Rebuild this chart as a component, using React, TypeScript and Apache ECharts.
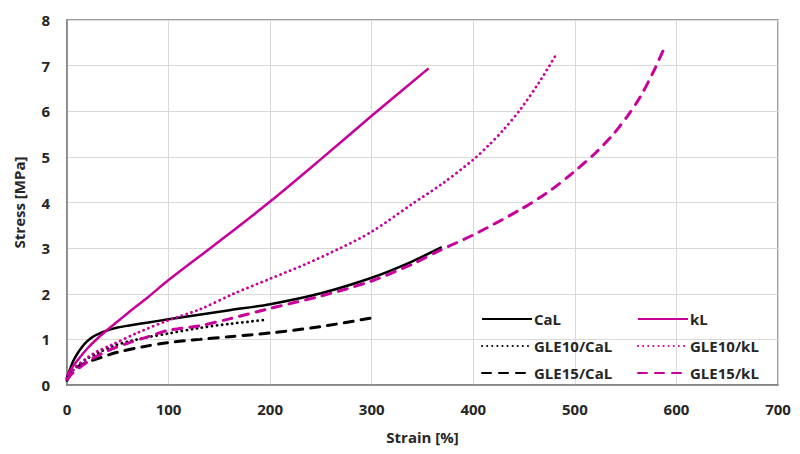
import React, { useEffect, useRef } from "react";
import * as echarts from "echarts";

const xTicks = [0, 100, 200, 300, 400, 500, 600, 700];
const yTicks = [0, 1, 2, 3, 4, 5, 6, 7, 8];

const seriesNames = ["CaL", "GLE10/CaL", "GLE15/CaL", "kL", "GLE10/kL", "GLE15/kL"];

const calData = [
  [0, 0.17], [3, 0.35], [6, 0.52], [10, 0.68], [15, 0.84], [20, 0.96], [25, 1.05],
  [30, 1.11], [40, 1.2], [50, 1.26], [60, 1.3], [80, 1.37], [100, 1.44], [130, 1.54],
  [160, 1.64], [200, 1.77], [250, 2.01], [300, 2.35], [335, 2.66], [369, 3.02],
];
const gle10CalData = [
  [0, 0.15], [5, 0.3], [10, 0.42], [20, 0.58], [30, 0.7], [45, 0.85], [60, 0.95],
  [80, 1.05], [100, 1.13], [130, 1.25], [160, 1.34], [196, 1.43],
];
const gle15CalData = [
  [0, 0.1], [5, 0.3], [10, 0.4], [20, 0.5], [33, 0.6], [50, 0.72], [75, 0.84],
  [100, 0.93], [131, 1.0], [160, 1.06], [200, 1.14], [250, 1.28], [300, 1.47],
];
const klData = [
  [0, 0.2], [5, 0.38], [10, 0.53], [20, 0.8], [30, 1.02], [42, 1.25], [60, 1.58],
  [80, 1.93], [100, 2.3], [150, 3.15], [200, 4.02], [250, 4.95], [300, 5.9], [356, 6.94],
];
const gle10KlData = [
  [0, 0.15], [5, 0.3], [10, 0.42], [20, 0.6], [30, 0.74], [43, 0.87], [70, 1.15],
  [100, 1.42], [131, 1.66], [164, 2.0], [200, 2.33], [235, 2.65], [269, 3.0],
  [300, 3.36], [340, 3.97], [370, 4.42], [400, 4.94], [415, 5.25], [430, 5.6],
  [446, 6.03], [465, 6.64], [481, 7.22],
];
const gle15KlData = [
  [0, 0.12], [5, 0.25], [13, 0.39], [25, 0.58], [40, 0.75], [59, 0.91], [80, 1.06],
  [100, 1.2], [131, 1.3], [160, 1.45], [200, 1.68], [250, 1.95], [300, 2.28],
  [340, 2.65], [367, 2.95], [400, 3.29], [446, 3.84], [475, 4.25], [498, 4.65],
  [520, 5.08], [538, 5.5], [552, 5.9], [564, 6.3], [577, 6.85], [589, 7.43],
];

const BLACK = "#000000";
const MAGENTA = "#c8009b";
const FONT = "'Open Sans', 'Noto Sans', sans-serif";
const TEXT = "#262626";

export default function App() {
  const ref = useRef<HTMLDivElement>(null);
  useEffect(() => {
    if (!ref.current) return;
    const chart = echarts.init(ref.current, undefined, { renderer: "svg" });
    const solid = (c: string) => ({ color: c, width: 2.5, type: "solid" as const });
    const dotted = (c: string) => ({ color: c, width: 2.8, type: [0.1, 5], cap: "round" as const });
    const dashed = (c: string) => ({ color: c, width: 3, type: [9, 8], cap: "round" as const });
    const mk = (name: string, data: number[][], color: string, ls: any) => ({
      name,
      type: "line",
      data,
      symbol: "none",
      smooth: 0.3,
      color,
      lineStyle: ls,
      z: 3,
    });
    const legendCommon = {
      orient: "vertical" as const,
      itemWidth: 50,
      itemHeight: 16,
      itemGap: 11,
      top: 306,
      itemStyle: { color: "rgba(0,0,0,0)", borderColor: "rgba(0,0,0,0)", borderWidth: 0, opacity: 0 },
      textStyle: { fontFamily: FONT, fontWeight: "bold" as const, fontSize: 15, color: TEXT, lineHeight: 16, padding: [0, 0, 0, -3] },
    };
    chart.setOption({
      animation: false,
      grid: {
        left: 67,
        right: 22,
        top: 20,
        bottom: 69,
        show: true,
        borderColor: "#7f7f7f",
        borderWidth: 1.5,
        backgroundColor: "transparent",
      },
      legend: [
        { ...legendCommon, left: 476, data: [seriesNames[0], seriesNames[1], seriesNames[2]] },
        { ...legendCommon, left: 632, data: [seriesNames[3], seriesNames[4], seriesNames[5]] },
      ],
      xAxis: {
        type: "value",
        min: xTicks[0],
        max: xTicks[xTicks.length - 1],
        interval: 100,
        name: "Strain [%]",
        nameLocation: "middle",
        nameGap: 44,
        nameTextStyle: { fontFamily: FONT, fontWeight: "bold", fontSize: 15, color: TEXT },
        axisLine: { show: true, lineStyle: { color: "#7f7f7f", width: 1.5 } },
        axisTick: { show: false },
        axisLabel: { fontFamily: FONT, fontWeight: "bold", fontSize: 15, color: TEXT, margin: 16 },
        splitLine: { show: true, lineStyle: { color: "#d9d9d9", width: 1 } },
      },
      yAxis: {
        type: "value",
        min: yTicks[0],
        max: yTicks[yTicks.length - 1],
        interval: 1,
        name: "Stress [MPa]",
        nameLocation: "middle",
        nameGap: 41,
        nameTextStyle: { fontFamily: FONT, fontWeight: "bold", fontSize: 15, color: TEXT },
        axisLine: { show: true, lineStyle: { color: "#7f7f7f", width: 1.5 } },
        axisTick: { show: false },
        axisLabel: { fontFamily: FONT, fontWeight: "bold", fontSize: 15, color: TEXT, margin: 17 },
        splitLine: { show: true, lineStyle: { color: "#d9d9d9", width: 1 } },
      },
      series: [
        mk(seriesNames[0], calData, BLACK, solid(BLACK)),
        mk(seriesNames[1], gle10CalData, BLACK, dotted(BLACK)),
        mk(seriesNames[2], gle15CalData, BLACK, dashed(BLACK)),
        mk(seriesNames[3], klData, MAGENTA, solid(MAGENTA)),
        mk(seriesNames[4], gle10KlData, MAGENTA, dotted(MAGENTA)),
        mk(seriesNames[5], gle15KlData, MAGENTA, dashed(MAGENTA)),
      ],
    });
    return () => chart.dispose();
  }, []);
  return (
    <div
      ref={ref}
      style={{ position: "fixed", left: 0, top: 0, width: 800, height: 454, background: "#fff" }}
    />
  );
}
